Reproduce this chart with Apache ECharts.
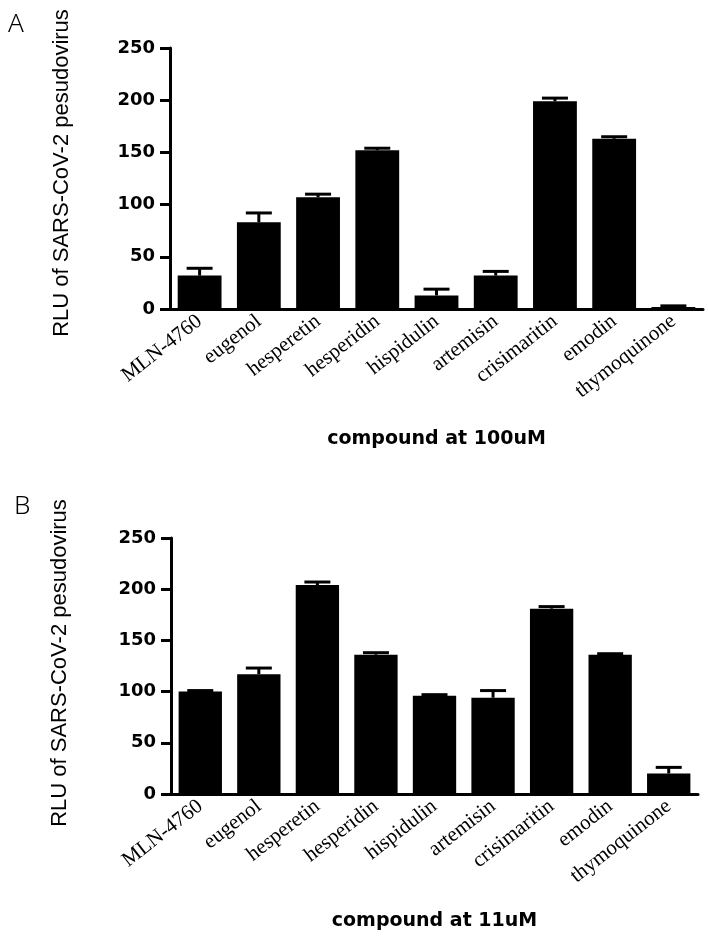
<!DOCTYPE html>
<html>
<head>
<meta charset="utf-8">
<script src="https://cdn.jsdelivr.net/npm/echarts@6/dist/echarts.min.js"></script>
<style>
  html, body { margin: 0; padding: 0; background: #fff; }
  #chart { width: 708px; height: 942px; }
</style>
</head>
<body>
<div id="chart"></div>
<script>
const compounds = [
  'MLN-4760', 'eugenol', 'hesperetin', 'hesperidin', 'hispidulin',
  'artemisin', 'crisimaritin', 'emodin', 'thymoquinone',
];
// panel A: compound at 100uM
const meanA = [32, 83, 107, 152, 13, 32, 199, 163, 2];
const errA = [7, 9, 3, 2, 6, 4, 3, 2, 1];
// panel B: compound at 11uM
const meanB = [100, 117, 204, 136, 96, 94, 181, 136, 20];
const errB = [1, 6, 3, 2, 1, 7, 2, 1, 6];
const yTicks = [0, 50, 100, 150, 200, 250];

const yTitle = 'RLU of SARS-CoV-2 pesudovirus';
const xTitleA = 'compound at 100uM';
const xTitleB = 'compound at 11uM';

const chart = echarts.init(document.getElementById('chart'));

function xAxisFor(gridIndex, title, gap) {
  return {
    type: 'category',
    gridIndex,
    data: compounds,
    name: title,
    nameLocation: 'middle',
    nameGap: gap,
    nameTextStyle: {
      color: '#000',
      fontFamily: 'DejaVu Sans',
      fontWeight: 'bold',
      fontSize: 19,
    },
    axisLine: { lineStyle: { color: '#000', width: 3 } },
    axisTick: { alignWithLabel: true, length: 7, lineStyle: { color: '#000', width: 3 } },
    axisLabel: {
      rotate: 38,
      margin: 10,
      color: '#000',
      fontFamily: 'Liberation Serif',
      fontSize: 21,
      interval: 0,
    },
  };
}

function yAxisFor(gridIndex) {
  return {
    type: 'value',
    gridIndex,
    min: yTicks[0],
    max: yTicks[yTicks.length - 1],
    interval: 50,
    splitLine: { show: false },
    axisLine: { show: true, lineStyle: { color: '#000', width: 3 } },
    axisTick: { show: true, length: 10, lineStyle: { color: '#000', width: 3 } },
    axisLabel: {
      margin: 15,
      color: '#000',
      fontFamily: 'DejaVu Sans',
      fontWeight: 'bold',
      fontSize: 18,
    },
  };
}

function barSeries(axisIndex, data) {
  return {
    type: 'bar',
    xAxisIndex: axisIndex,
    yAxisIndex: axisIndex,
    data,
    barWidth: '74%',
    itemStyle: { color: '#000' },
    silent: true,
    z: 2,
  };
}

function errorSeries(axisIndex, means, errs) {
  return {
    type: 'custom',
    xAxisIndex: axisIndex,
    yAxisIndex: axisIndex,
    data: means.map((m, i) => [i, m, m + errs[i]]),
    silent: true,
    z: 3,
    renderItem: (params, api) => {
      const base = api.coord([api.value(0), api.value(1)]);
      const top = api.coord([api.value(0), api.value(2)]);
      const half = 13;
      const style = { stroke: '#000', lineWidth: 3 };
      return {
        type: 'group',
        children: [
          { type: 'line', shape: { x1: base[0], y1: base[1], x2: top[0], y2: top[1] }, style },
          { type: 'line', shape: { x1: top[0] - half, y1: top[1], x2: top[0] + half, y2: top[1] }, style },
        ],
      };
    },
  };
}

function panelText(text, x, y) {
  return {
    type: 'text',
    x,
    y,
    style: { text, fill: '#000', fontFamily: 'Noto Sans', fontWeight: 300, fontSize: 26 },
  };
}

function yTitleText(x, y) {
  return {
    type: 'text',
    x,
    y,
    rotation: Math.PI / 2,
    style: {
      text: yTitle,
      fill: '#000',
      fontFamily: 'Liberation Sans',
      fontSize: 22,
      align: 'center',
      verticalAlign: 'middle',
    },
  };
}

chart.setOption({
  animation: false,
  backgroundColor: '#fff',
  grid: [
    { left: 170, right: 5, top: 48, height: 261 },
    { left: 171, right: 10, top: 538, height: 256 },
  ],
  xAxis: [xAxisFor(0, xTitleA, 121), xAxisFor(1, xTitleB, 118)],
  yAxis: [yAxisFor(0), yAxisFor(1)],
  series: [
    barSeries(0, meanA),
    errorSeries(0, meanA, errA),
    barSeries(1, meanB),
    errorSeries(1, meanB, errB),
  ],
  graphic: [
    panelText('A', 8, 12),
    panelText('B', 14, 494),
    yTitleText(62, 173),
    yTitleText(60, 663),
  ],
});
</script>
</body>
</html>
